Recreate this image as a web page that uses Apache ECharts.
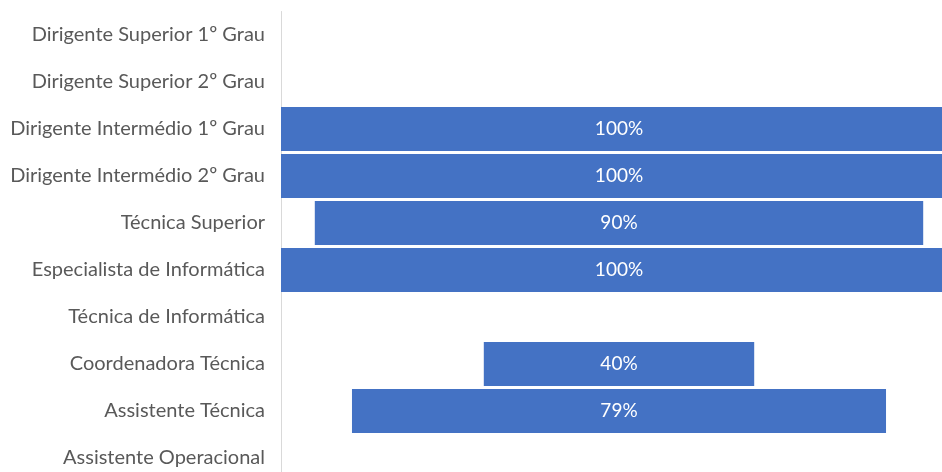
<!DOCTYPE html>
<html>
<head>
<meta charset="utf-8">
<script src="https://cdn.jsdelivr.net/npm/echarts@6/dist/echarts.min.js"></script>
<style>
  html, body { margin: 0; padding: 0; background: #fff; }
  #main { width: 942px; height: 472px; }
</style>
</head>
<body>
<div id="main"></div>
<script>
// categorias e percentagens
const categorias = [
  'Dirigente Superior 1º Grau',
  'Dirigente Superior 2º Grau',
  'Dirigente Intermédio 1º Grau',
  'Dirigente Intermédio 2º Grau',
  'Técnica Superior',
  'Especialista de Informática',
  'Técnica de Informática',
  'Coordenadora Técnica',
  'Assistente Técnica',
  'Assistente Operacional'
];
const percentagens = [0, 0, 100, 100, 90, 100, 0, 40, 79, 0];

// espaço vazio à esquerda para centrar cada barra (estilo funil)
const offset = percentagens.map(v => (100 - v) / 2);

const myChart = echarts.init(document.getElementById('main'));
const option = {
  animation: false,
  // a área do gráfico passa além da janela à direita e em baixo, como no original
  grid: {
    left: 281, top: 11.5, width: 676, height: 470,
    containLabel: false, outerBoundsMode: 'none'
  },
  xAxis: { type: 'value', min: 0, max: 100, show: false },
  yAxis: {
    type: 'category',
    data: categorias,
    inverse: true,
    axisTick: { show: false },
    axisLine: { lineStyle: { color: '#d9d9d9', width: 1 } },
    axisLabel: { color: '#595959', fontSize: 20, fontFamily: 'Lato', margin: 16 }
  },
  series: [
    {
      type: 'bar', stack: 'funil', data: offset,
      itemStyle: { color: 'transparent' }, silent: true,
      barCategoryGap: '6.5%'
    },
    {
      type: 'bar', stack: 'funil', data: percentagens,
      itemStyle: { color: '#4472C4' },
      barCategoryGap: '6.5%',
      label: {
        show: true, position: 'inside', color: '#fff',
        fontSize: 19, fontFamily: 'Lato',
        formatter: p => p.value > 0 ? p.value + '%' : ''
      }
    }
  ]
};
myChart.setOption(option);
</script>
</body>
</html>
